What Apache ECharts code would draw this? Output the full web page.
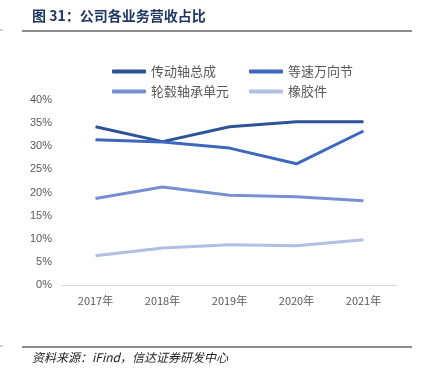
<!DOCTYPE html>
<html>
<head>
<meta charset="utf-8">
<script src="https://cdn.jsdelivr.net/npm/echarts@6/dist/echarts.min.js"></script>
<style>
  html, body { margin: 0; padding: 0; background: #fff; }
  #chart { width: 422px; height: 377px; }
</style>
</head>
<body>
<div id="chart"></div>
<script>
// 年份
var years = ['2017年', '2018年', '2019年', '2020年', '2021年'];
// 各业务营收占比 (%)
var chuandong = [34.2, 31.0, 34.2, 35.3, 35.3];   // 传动轴总成
var dengsu = [31.4, 30.9, 29.6, 26.2, 33.3];      // 等速万向节
var lungu = [18.7, 21.2, 19.4, 19.1, 18.2];       // 轮毂轴承单元
var xiangjiao = [6.3, 8.0, 8.7, 8.5, 9.8];        // 橡胶件
var names = ['传动轴总成', '等速万向节', '轮毂轴承单元', '橡胶件'];
var colors = ['#2E5296', '#3D68BE', '#7690D2', '#B2BFE4'];

var cjk = '"Noto Sans CJK SC", sans-serif';
var chart = echarts.init(document.getElementById('chart'));

function line(name, data, color){
    return {
        name: name,
        type: 'line',
        data: data,
        symbol: 'none',
        lineStyle: { width: 3, color: color },
        itemStyle: { color: color }
    };
}

// 图例：两行两列
var legendPos = [[107, 60], [244, 60], [107, 80], [244, 80]];
var legends = names.map(function (n, i){
    return {
        data: [n],
        left: legendPos[i][0], top: legendPos[i][1],
        itemWidth: 34, itemHeight: 4,
        icon: 'roundRect',
        textStyle: { fontSize: 13, color: '#595959', fontFamily: cjk }
    };
});

chart.setOption({
    animation: false,
    color: colors,
    graphic: [
        { type: 'text', left: 32, top: 9, style: { text: '图 31：公司各业务营收占比', fill: '#1F3864', font: 'bold 14px ' + cjk } },
        { type: 'line', shape: { x1: 22, y1: 31, x2: 412, y2: 31 }, style: { stroke: '#8C8C8C', lineWidth: 2 } },
        { type: 'line', shape: { x1: 0, y1: 30, x2: 3, y2: 30 }, style: { stroke: '#999', lineWidth: 1 } },
        { type: 'line', shape: { x1: 22, y1: 347, x2: 412, y2: 347 }, style: { stroke: '#8C8C8C', lineWidth: 2 } },
        { type: 'line', shape: { x1: 0, y1: 346, x2: 3, y2: 346 }, style: { stroke: '#999', lineWidth: 1 } },
        { type: 'text', left: 32, top: 351, style: { text: '资料来源：iFind，信达证券研发中心', fill: '#222', font: 'italic 12px ' + cjk } }
    ],
    legend: legends,
    grid: { left: 62, right: 25, top: 100, bottom: 92 },
    xAxis: {
        type: 'category',
        data: years,
        axisLine: { lineStyle: { color: '#D9D9D9', width: 1 } },
        axisTick: { show: false },
        axisLabel: { color: '#595959', fontSize: 11, margin: 10, fontFamily: cjk }
    },
    yAxis: {
        type: 'value',
        min: 0, max: 40, interval: 5,
        splitLine: { show: false },
        axisLine: { show: false },
        axisTick: { show: false },
        axisLabel: { color: '#595959', fontSize: 11, margin: 10, formatter: '{value}%', fontFamily: 'Liberation Sans, Arial' }
    },
    series: [
        line(names[0], chuandong, colors[0]),
        line(names[1], dengsu, colors[1]),
        line(names[2], lungu, colors[2]),
        line(names[3], xiangjiao, colors[3])
    ]
});
</script>
</body>
</html>
